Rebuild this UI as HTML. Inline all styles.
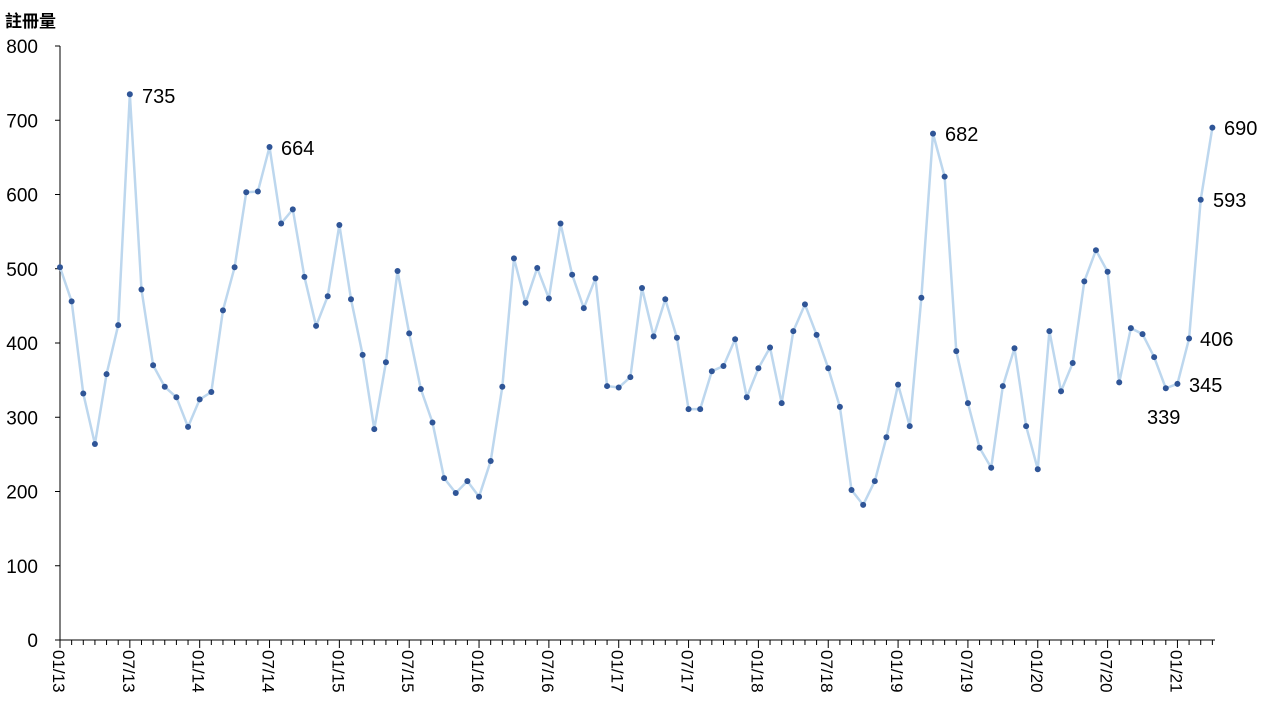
<!DOCTYPE html>
<html><head><meta charset="utf-8"><style>
body{margin:0;background:#fff;}
svg{display:block;font-family:"Liberation Sans","Noto Sans CJK TC",sans-serif;}
</style></head><body>
<svg id="s" width="1280" height="720" xmlns="http://www.w3.org/2000/svg"></svg>
<script>
const d=[502,456,332,264,358,424,735,472,370,341,327,287,324,334,444,502,603,604,664,561,580,489,423,463,559,459,384,284,374,497,413,338,293,218,198,214,193,241,341,514,454,501,460,561,492,447,487,342,340,354,474,409,459,407,311,311,362,369,405,327,366,394,319,416,452,411,366,314,202,182,214,273,344,288,461,682,624,389,319,259,232,342,393,288,230,416,335,373,483,525,496,347,420,412,381,339,345,406,593,690];
const X0=60,DX=11.64,Y0=640,S=0.7425;
const X=i=>X0+i*DX, Y=v=>Y0-v*S;
let h='';
h+=`<text x="5" y="27" font-size="17" font-weight="bold" fill="#000">註冊量</text>`;
h+=`<line x1="60" y1="46" x2="60" y2="640" stroke="#000" stroke-width="1"/>`;
h+=`<line x1="60" y1="640" x2="1215" y2="640" stroke="#000" stroke-width="1"/>`;
for(let v=0;v<=800;v+=100){const y=Y(v);h+=`<line x1="55" y1="${y}" x2="60" y2="${y}" stroke="#000"/><text x="38" y="${y+7}" font-size="19" text-anchor="end">${v}</text>`;}
const yrs=['13','14','15','16','17','18','19','20','21'];
for(let i=0;i<=99;i++){const x=X(i);h+=`<line x1="${x}" y1="640" x2="${x}" y2="${i%6==0?648:645}" stroke="#000"/>`;
 if(i%6==0){const lab=(i%12==0?'01/':'07/')+yrs[Math.floor(i/12)];h+=`<text transform="translate(${x-7},650) rotate(90)" font-size="17">${lab}</text>`;}}
h+=`<polyline fill="none" stroke="#bdd7ee" stroke-width="2.5" points="${d.map((v,i)=>X(i)+','+Y(v)).join(' ')}"/>`;
d.forEach((v,i)=>h+=`<circle cx="${X(i)}" cy="${Y(v)}" r="3" fill="#2f5597"/>`);
const L=[[6,142,103,'735'],[18,281,155,'664'],[75,945,141,'682'],[99,1224,135,'690'],[98,1213,207,'593'],[97,1200,346,'406'],[96,1189,392,'345'],[95,1147,424,'339']];
L.forEach(l=>h+=`<text x="${l[1]}" y="${l[2]}" font-size="20">${l[3]}</text>`);
document.getElementById('s').innerHTML=h;
</script>
</body></html>
